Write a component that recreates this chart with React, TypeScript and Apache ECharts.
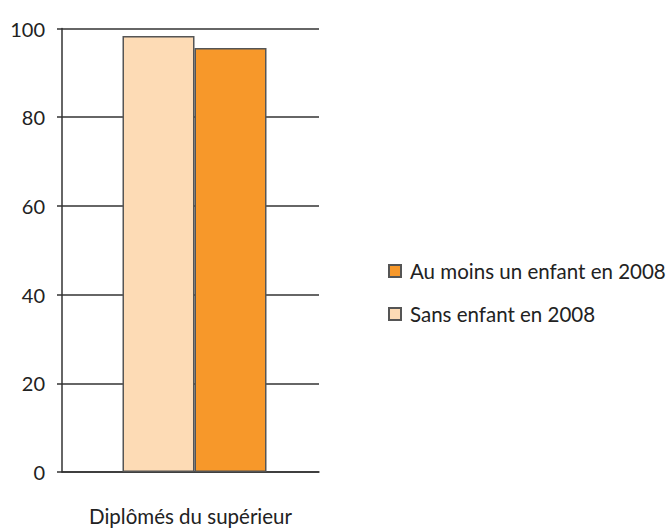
import React, { useEffect, useRef } from "react";
import * as echarts from "echarts";

const categories = ["Diplômés du supérieur"];
const seriesNames = ["Sans enfant en 2008", "Au moins un enfant en 2008"];
const sansEnfant = [98.3];
const auMoinsUnEnfant = [95.6];
const spacer = ["-"];
const yTicks = { min: 0, max: 100, interval: 20 };

const FONT = "Lato, 'Open Sans', sans-serif";

export default function App() {
  const ref = useRef<HTMLDivElement>(null);
  useEffect(() => {
    if (!ref.current) return;
    const chart = echarts.init(ref.current, null, { renderer: "svg" });
    chart.setOption({
      animation: false,
      backgroundColor: "#ffffff",
      textStyle: { fontFamily: FONT },
      grid: { left: 62, right: 352, top: 28.5, bottom: 57, containLabel: false },
      legend: {
        data: [seriesNames[1], seriesNames[0]],
        orient: "vertical",
        left: 383,
        top: 254,
        itemWidth: 12,
        itemHeight: 12,
        itemGap: 19,
        icon: "rect",
        textStyle: { fontSize: 20.5, color: "#222", lineHeight: 24, fontFamily: FONT, padding: [0, 0, 0, 4] },
      },
      xAxis: {
        type: "category",
        data: categories,
        axisLine: { show: true, lineStyle: { color: "#333", width: 1.5 } },
        axisTick: { show: false },
        axisLabel: { fontSize: 20.5, color: "#222", margin: 33, fontFamily: FONT },
      },
      yAxis: {
        type: "value",
        min: yTicks.min,
        max: yTicks.max,
        interval: yTicks.interval,
        axisLine: { show: true, lineStyle: { color: "#333", width: 1.5 } },
        axisTick: { show: true, length: 5, lineStyle: { color: "#333", width: 1.5 } },
        axisLabel: { fontSize: 20, color: "#222", margin: 17, fontFamily: FONT },
        splitLine: { show: true, lineStyle: { color: "#333", width: 1.5 } },
      },
      series: [
        {
          name: "spacer",
          type: "bar",
          data: spacer,
          barWidth: 8,
          barGap: "0%",
          silent: true,
          itemStyle: { color: "transparent" },
        },
        {
          name: seriesNames[0],
          type: "bar",
          data: sansEnfant,
          barWidth: 72,
          barGap: "0%",
          itemStyle: { color: "#FDDBB5", borderColor: "#555", borderWidth: 1.5 },
        },
        {
          name: seriesNames[1],
          type: "bar",
          data: auMoinsUnEnfant,
          barWidth: 72,
          barGap: "0%",
          itemStyle: { color: "#F7982A", borderColor: "#555", borderWidth: 1.5 },
        },
      ],
    });
    return () => chart.dispose();
  }, []);
  return <div ref={ref} style={{ width: 671, height: 529, position: "absolute", left: 0, top: 0 }} />;
}
